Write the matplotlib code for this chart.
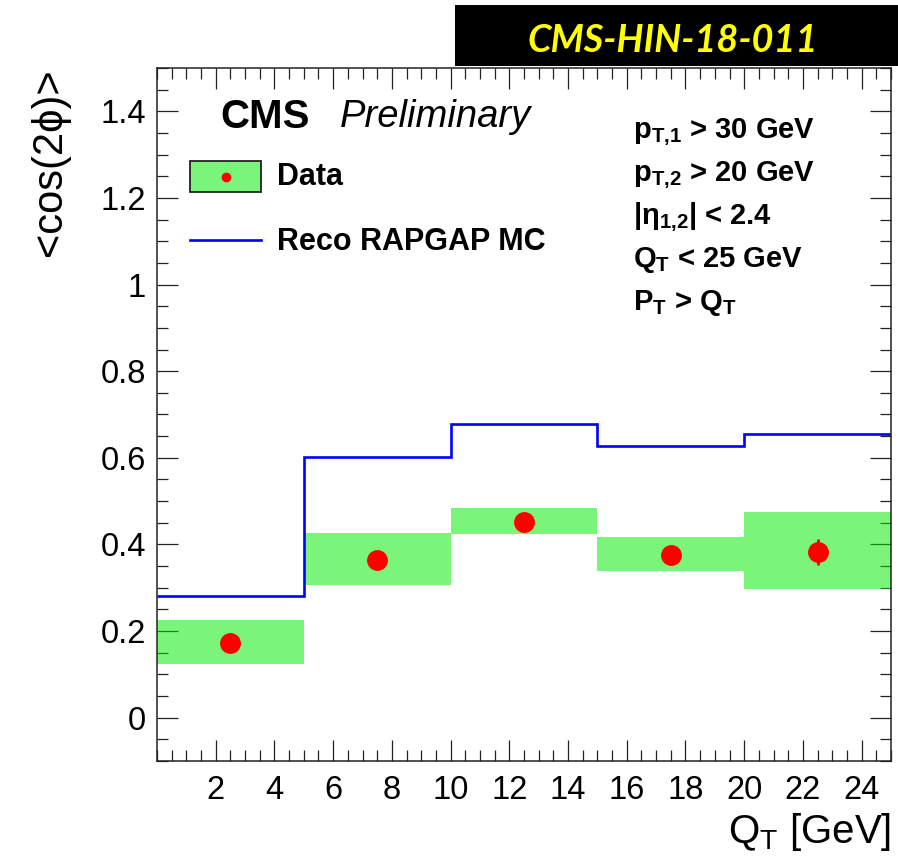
import matplotlib
matplotlib.use("Agg")
import matplotlib.pyplot as plt
from matplotlib.patches import Rectangle
from matplotlib.lines import Line2D
from matplotlib.ticker import MultipleLocator, FuncFormatter

plt.rcParams['font.family'] = ['Liberation Sans', 'DejaVu Sans']
plt.rcParams['mathtext.fontset'] = 'custom'
plt.rcParams['mathtext.rm'] = 'Liberation Sans'
plt.rcParams['mathtext.it'] = 'Liberation Sans:italic'
plt.rcParams['mathtext.bf'] = 'Liberation Sans:bold'

# Q_T binning and measured <cos(2phi)>
bin_edges = [0, 5, 10, 15, 20, 25]
qt_centers = [2.5, 7.5, 12.5, 17.5, 22.5]
data_mean = [0.173, 0.364, 0.452, 0.376, 0.383]
data_stat = [0.015, 0.02, 0.015, 0.015, 0.03]
sys_low = [0.124, 0.306, 0.424, 0.339, 0.297]
sys_high = [0.226, 0.427, 0.484, 0.417, 0.475]
# reconstructed RAPGAP MC prediction
mc_reco = [0.281, 0.602, 0.678, 0.628, 0.655]

x_ticks = [2, 4, 6, 8, 10, 12, 14, 16, 18, 20, 22, 24]
y_ticks = [0, 0.2, 0.4, 0.6, 0.8, 1.0, 1.2, 1.4]

cuts = [r'$\mathbf{p_{T{,}1}}$ > 30 GeV',
        r'$\mathbf{p_{T{,}2}}$ > 20 GeV',
        r'$\mathbf{|\eta_{1{,}2}|}$ < 2.4',
        r'$\mathbf{Q_{T}}$ < 25 GeV',
        r'$\mathbf{P_{T}}$ > $\mathbf{Q_{T}}$']

W, H = 898, 860
fig = plt.figure(figsize=(W / 100, H / 100), dpi=100)
ax = fig.add_axes([157 / W, 1 - 761 / H, 734 / W, 693 / H])
ax.set_axisbelow(True)

green = (0.0, 0.93, 0.0)
widths = [bin_edges[i + 1] - bin_edges[i] for i in range(len(qt_centers))]
heights = [h - l for h, l in zip(sys_high, sys_low)]
ax.bar(qt_centers, heights, bottom=sys_low, width=widths,
       color=green, alpha=0.52, linewidth=0, zorder=1)

ax.stairs(mc_reco, bin_edges, baseline=None, color='#0000ff',
          linewidth=1.9, zorder=2)

ax.errorbar(qt_centers, data_mean, yerr=data_stat, fmt='o', color='#ff0000',
            markersize=14, elinewidth=2, capsize=0, zorder=3)

ax.set_xlim(0, 25)
ax.set_ylim(-0.1, 1.5)
ax.set_xticks(x_ticks)
ax.set_yticks(y_ticks)
ax.xaxis.set_minor_locator(MultipleLocator(0.5))
ax.yaxis.set_minor_locator(MultipleLocator(0.05))
ax.yaxis.set_major_formatter(FuncFormatter(lambda v, p: '%g' % v))
ax.tick_params(which='both', direction='in', top=True, right=True,
               color='#222222', width=0.9, labelsize=23.5)
ax.tick_params(which='major', length=15)
ax.tick_params(which='minor', length=8)
ax.tick_params(axis='x', pad=10)
ax.tick_params(axis='y', pad=8)
for s in ax.spines.values():
    s.set_linewidth(1.1)
    s.set_color('#222222')

ax.set_xlabel(r'Q$_\mathrm{T}$ [GeV]', fontsize=29, loc='right', labelpad=4)
ax.set_ylabel('<cos(2ϕ)>', fontsize=30, loc='top', labelpad=22)

# CMS label
ax.text(0.0858, 0.929, 'CMS', transform=ax.transAxes, fontsize=29,
        fontweight='bold', va='center', ha='left')
ax.text(0.249, 0.929, 'Preliminary', transform=ax.transAxes, fontsize=27.5,
        fontstyle='italic', va='center', ha='left')

# legend
ax.add_patch(Rectangle((0.045, 0.821), 0.097, 0.0448, transform=ax.transAxes,
                       facecolor=green, alpha=0.52, edgecolor='none', zorder=4))
ax.add_patch(Rectangle((0.045, 0.821), 0.097, 0.0448, transform=ax.transAxes,
                       facecolor='none', edgecolor='#222222', linewidth=1.3, zorder=5))
ax.add_line(Line2D([0.0935], [0.8434], transform=ax.transAxes, marker='o',
                   markersize=6, color='#ff0000', zorder=6))
ax.add_line(Line2D([0.045, 0.142], [0.7518, 0.7518], transform=ax.transAxes,
                   color='#0000ff', linewidth=1.9, zorder=5))
ax.text(0.1635, 0.8434, 'Data', transform=ax.transAxes, fontsize=22,
        fontweight='bold', va='center', ha='left')
ax.text(0.1635, 0.749, 'Reco RAPGAP MC', transform=ax.transAxes, fontsize=22,
        fontweight='bold', va='center', ha='left')

# selection cuts
for i, c in enumerate(cuts):
    ax.text(0.6485, 0.899 - 0.062 * i, c, transform=ax.transAxes,
            fontsize=21, fontweight='bold', va='baseline', ha='left')

# analysis tag
fig.patches.append(Rectangle((455 / W, 1 - 66 / H), 1 - 455 / W, 61 / H,
                             transform=fig.transFigure, facecolor='black',
                             edgecolor='none'))
fig.text(673 / W, 1 - 40 / H, 'CMS-HIN-18-011', color='#ffff00', fontsize=27.3,
         fontweight='bold', fontstyle='italic', family=['Lato', 'DejaVu Sans'],
         ha='center', va='center')

fig.savefig('out.png', dpi=100)
